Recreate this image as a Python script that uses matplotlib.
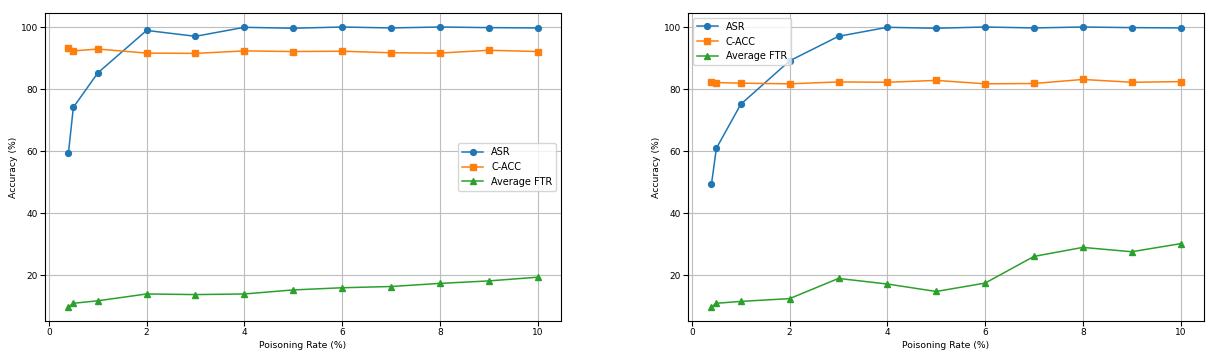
import matplotlib
matplotlib.use("Agg")
import matplotlib.pyplot as plt

rates = [0.4, 0.5, 1, 2, 3, 4, 5, 6, 7, 8, 9, 10]

asr_left = [59.4, 74.1, 85.2, 98.9, 97.0, 99.9, 99.6, 100.0, 99.7, 100.0, 99.8, 99.7]
cacc_left = [93.1, 92.3, 92.9, 91.6, 91.5, 92.3, 92.1, 92.2, 91.7, 91.6, 92.5, 92.1]
ftr_left = [9.8, 11.0, 11.8, 14.0, 13.8, 14.0, 15.3, 16.0, 16.4, 17.4, 18.2, 19.4]

asr_right = [49.3, 60.9, 75.1, 89.1, 97.0, 99.9, 99.6, 100.0, 99.7, 100.0, 99.8, 99.7]
cacc_right = [82.2, 82.1, 81.9, 81.7, 82.3, 82.2, 82.8, 81.7, 81.8, 83.1, 82.2, 82.4]
ftr_right = [9.8, 11.0, 11.6, 12.5, 19.0, 17.2, 14.8, 17.5, 26.1, 29.0, 27.6, 30.2]

series_names = ["ASR", "C-ACC", "Average FTR"]
xlabel = "Poisoning Rate (%)"
ylabel = "Accuracy (%)"

plt.rcParams['font.family'] = ['DejaVu Sans']
fig = plt.figure(figsize=(12.11, 3.55), dpi=100)
W, H = 1211, 355
ax1 = fig.add_axes([45 / W, (355 - 321) / H, (561 - 45) / W, (321 - 13) / H])
ax2 = fig.add_axes([688 / W, (355 - 321) / H, (1204 - 688) / W, (321 - 13) / H])

colors = ['#1f77b4', '#ff7f0e', '#2ca02c']
markers = ['o', 's', '^']

for ax, data, loc in [(ax1, [asr_left, cacc_left, ftr_left], 'center right'),
                      (ax2, [asr_right, cacc_right, ftr_right], 'upper left')]:
    for vals, name, c, m in zip(data, series_names, colors, markers):
        ax.plot(rates, vals, color=c, marker=m, markersize=4.2, linewidth=1.1, label=name)
    ax.grid(True, color='#bdbdbd', linewidth=0.8)
    ax.set_axisbelow(True)
    ax.set_xlabel(xlabel, fontsize=6.7, labelpad=3)
    ax.set_ylabel(ylabel, fontsize=6.7, labelpad=2)
    ax.tick_params(labelsize=6.5, length=3.5, pad=1.5)
    ax.set_xticks([0, 2, 4, 6, 8, 10])
    ax.set_yticks([20, 40, 60, 80, 100])
    leg = ax.legend(loc=loc, fontsize=7, framealpha=0.8, borderpad=0.4, handlelength=2.2)
    for s in ax.spines.values():
        s.set_linewidth(0.8)

fig.savefig("out.png", dpi=100)
